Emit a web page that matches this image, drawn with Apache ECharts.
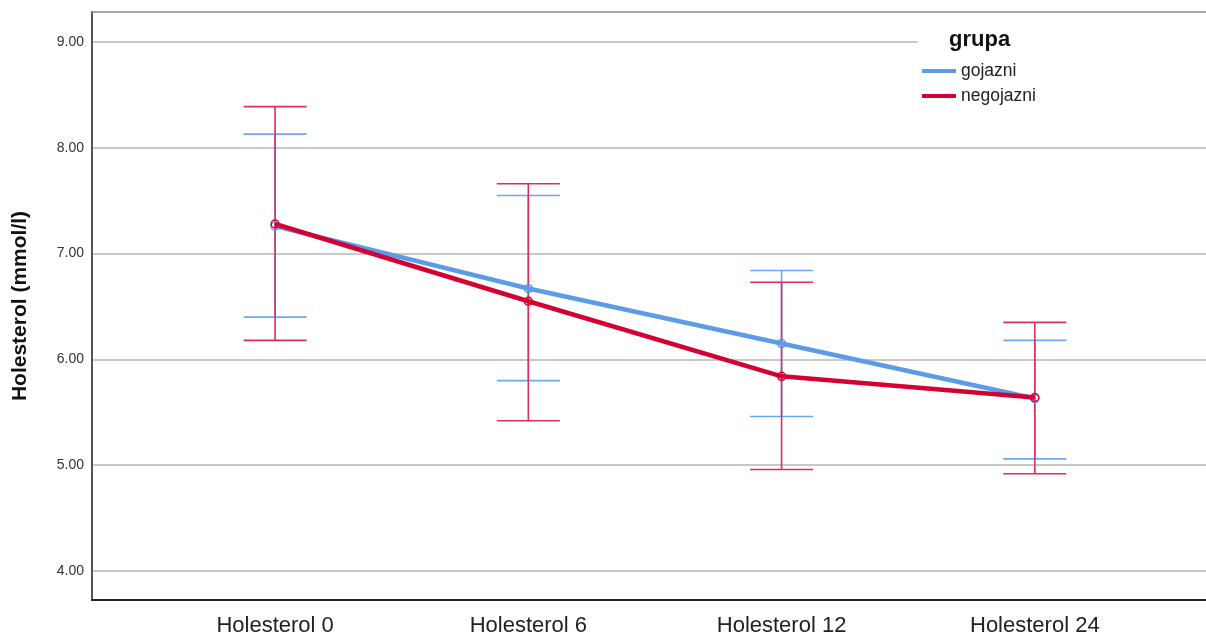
<!DOCTYPE html>
<html><head><meta charset="utf-8">
<script src="https://cdn.jsdelivr.net/npm/echarts@6/dist/echarts.min.js"></script>
<style>html,body{margin:0;padding:0;background:#fff}#c{width:1206px;height:635px}</style>
</head><body><div id="c"></div>
<script>
var categories = ['Holesterol 0', 'Holesterol 6', 'Holesterol 12', 'Holesterol 24'];
var yTicks = [4, 5, 6, 7, 8, 9];
var gojazniMean = [7.26, 6.67, 6.15, 5.63];
var gojazniLow = [6.40, 5.80, 5.46, 5.06];
var gojazniHigh = [8.13, 7.55, 6.84, 6.18];
var negojazniMean = [7.28, 6.55, 5.84, 5.64];
var negojazniLow = [6.18, 5.42, 4.96, 4.92];
var negojazniHigh = [8.39, 7.66, 6.73, 6.35];

var BLUE = '#5b9be8', RED = '#d40032';
var BLUE_ERR = '#6ea7ee', RED_ERR = '#dc2f5a';
var FONT = '"Liberation Sans", Arial, sans-serif';

function pts(arr) { return arr.map(function (v, i) { return [i, v]; }); }
function errData(lo, hi) { return lo.map(function (v, i) { return [i, v, hi[i]]; }); }

function errSeries(name, lo, hi, color, z) {
  return {
    type: 'custom', name: name + '_err', z: z, silent: true,
    data: errData(lo, hi),
    encode: { x: 0, y: [1, 2] },
    renderItem: function (params, api) {
      var x = api.value(0);
      var pLo = api.coord([x, api.value(1)]);
      var pHi = api.coord([x, api.value(2)]);
      var hw = 31.5;
      var st = { stroke: color, lineWidth: 1.6, fill: null };
      return {
        type: 'group', children: [
          { type: 'line', shape: { x1: pLo[0], y1: pLo[1], x2: pHi[0], y2: pHi[1] }, style: st },
          { type: 'line', shape: { x1: pLo[0] - hw, y1: pLo[1], x2: pLo[0] + hw, y2: pLo[1] }, style: st },
          { type: 'line', shape: { x1: pHi[0] - hw, y1: pHi[1], x2: pHi[0] + hw, y2: pHi[1] }, style: st }
        ]
      };
    }
  };
}

var chart = echarts.init(document.getElementById('c'), null, { renderer: 'canvas' });
chart.setOption({
  animation: false,
  textStyle: { fontFamily: FONT },
  grid: { left: 92, top: 12, right: 0, bottom: 35, outerBoundsMode: 'none', containLabel: false, show: false },
  title: { text: 'grupa', left: 944, top: 24, textStyle: { fontFamily: FONT, fontSize: 22, fontWeight: 'bold', color: '#111' } },
  legend: {
    orient: 'vertical', left: 918, top: 14,
    padding: [48, 200, 16, 4],
    backgroundColor: '#ffffff',
    itemWidth: 34, itemHeight: 4, itemGap: 7,
    icon: 'rect',
    data: [
      { name: 'gojazni', itemStyle: { color: BLUE, borderWidth: 0 } },
      { name: 'negojazni', itemStyle: { color: RED, borderWidth: 0 } }
    ],
    textStyle: { fontFamily: FONT, fontSize: 17.5, color: '#222' }
  },
  xAxis: [{
    type: 'value', min: -0.723, max: 3.676,
    axisLine: { show: true, onZero: false, lineStyle: { color: '#222', width: 2 } },
    axisTick: { show: false, customValues: [0, 1, 2, 3] },
    splitLine: { show: false },
    axisLabel: {
      customValues: [0, 1, 2, 3], margin: 15,
      fontFamily: FONT, fontSize: 22, color: '#222',
      formatter: function (v) { return categories[Math.round(v)]; }
    }
  }, {
    type: 'value', position: 'top', min: -0.723, max: 3.676,
    axisLine: { show: true, onZero: false, lineStyle: { color: '#8a8a8a', width: 1.5 } },
    axisTick: { show: false }, axisLabel: { show: false }, splitLine: { show: false }
  }],
  yAxis: {
    type: 'value', min: 3.726, max: 9.284,
    name: 'Holesterol (mmol/l)', nameLocation: 'middle', nameGap: 61,
    nameTextStyle: { fontFamily: FONT, fontSize: 21, fontWeight: 'bold', color: '#111' },
    axisLine: { show: true, onZero: false, lineStyle: { color: '#555', width: 2 } },
    axisTick: { show: false, customValues: yTicks },
    axisLabel: {
      customValues: yTicks, margin: 8, fontFamily: FONT, fontSize: 14, color: '#333',
      formatter: function (v) { return v.toFixed(2); }
    },
    splitLine: { show: true, lineStyle: { color: '#c8c8c8', width: 2 } }
  },
  series: [
    errSeries('gojazni', gojazniLow, gojazniHigh, BLUE_ERR, 2),
    errSeries('negojazni', negojazniLow, negojazniHigh, RED_ERR, 3),
    {
      type: 'line', name: 'gojazni', data: pts(gojazniMean), z: 4,
      color: BLUE, lineStyle: { color: BLUE, width: 4.5 },
      symbol: 'circle', symbolSize: 8,
      itemStyle: { color: 'rgba(255,255,255,0)', borderColor: BLUE, borderWidth: 1.5 }
    },
    {
      type: 'line', name: 'negojazni', data: pts(negojazniMean), z: 5,
      color: RED, lineStyle: { color: RED, width: 4.5 },
      symbol: 'circle', symbolSize: 8,
      itemStyle: { color: 'rgba(255,255,255,0)', borderColor: RED, borderWidth: 1.5 }
    }
  ]
});
</script>
</body></html>
